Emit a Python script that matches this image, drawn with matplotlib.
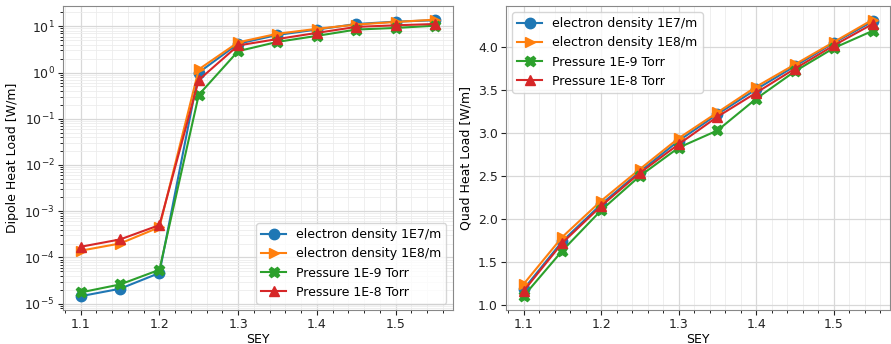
import matplotlib
matplotlib.use("Agg")
import matplotlib.pyplot as plt
from matplotlib.ticker import AutoMinorLocator, NullFormatter

sey = [1.10, 1.15, 1.20, 1.25, 1.30, 1.35, 1.40, 1.45, 1.50, 1.55]

labels = ["electron density 1E7/m", "electron density 1E8/m",
          "Pressure 1E-9 Torr", "Pressure 1E-8 Torr"]
markers = ["o", ">", "X", "^"]
colors = ["#1f77b4", "#ff7f0e", "#2ca02c", "#d62728"]

dipole_ed1e7 = [1.45e-5, 2.1e-5, 4.6e-5, 1.0, 4.2, 6.5, 8.5, 11.2, 12.6, 13.5]
dipole_ed1e8 = [1.4e-4, 2.0e-4, 4.5e-4, 1.17, 4.5, 6.9, 8.8, 10.9, 12.4, 13.9]
dipole_p1e9 = [1.75e-5, 2.6e-5, 5.4e-5, 0.33, 2.9, 4.6, 6.2, 8.5, 9.2, 10.3]
dipole_p1e8 = [1.7e-4, 2.45e-4, 5.0e-4, 0.69, 3.85, 5.3, 7.2, 9.7, 10.5, 11.2]

quad_ed1e7 = [1.18, 1.74, 2.17, 2.55, 2.91, 3.22, 3.51, 3.78, 4.05, 4.30]
quad_ed1e8 = [1.24, 1.79, 2.21, 2.58, 2.94, 3.24, 3.54, 3.80, 4.06, 4.32]
quad_p1e9 = [1.10, 1.63, 2.10, 2.50, 2.83, 3.03, 3.40, 3.72, 3.99, 4.19]
quad_p1e8 = [1.16, 1.72, 2.15, 2.535, 2.87, 3.19, 3.47, 3.75, 4.02, 4.27]

dipole_ticks = [1e-5, 1e-4, 1e-3, 1e-2, 1e-1, 1e0, 1e1]

dipole = [dipole_ed1e7, dipole_ed1e8, dipole_p1e9, dipole_p1e8]
quad = [quad_ed1e7, quad_ed1e8, quad_p1e9, quad_p1e8]

plt.rcParams["font.family"] = "DejaVu Sans"
fig = plt.figure(figsize=(8.91, 3.44), dpi=100)
ax1 = fig.add_axes([0.0707, 0.0988, 0.4373, 0.8842])
ax2 = fig.add_axes([0.568, 0.0988, 0.431, 0.8842])

for ax, data in ((ax1, dipole), (ax2, quad)):
    for y, lab, m, c in zip(data, labels, markers, colors):
        ax.plot(sey, y, marker=m, color=c, label=lab, markersize=7.5, linewidth=1.5)
    ax.set_xlabel("SEY", fontsize=9, labelpad=1)
    ax.xaxis.set_minor_locator(AutoMinorLocator(5))
    ax.tick_params(labelsize=9, colors="#222222", pad=2.5)
    ax.tick_params(which="minor", length=2)
    for s in ax.spines.values():
        s.set_color("#888888")
    ax.set_axisbelow(True)
    ax.grid(which="major", color="#d8d8d8", linewidth=0.9)
    ax.grid(which="minor", color="#ececec", linewidth=0.6)

ax1.set_yscale("log")
ax1.set_yticks(dipole_ticks)
ax1.yaxis.set_minor_formatter(NullFormatter())
ax1.set_ylabel("Dipole Heat Load [W/m]", fontsize=9, labelpad=4)
ax1.legend(loc="lower right", fontsize=9)

ax2.set_ylabel("Quad Heat Load [W/m]", fontsize=9, labelpad=4)
ax2.legend(loc="upper left", fontsize=9)

fig.savefig("out.png", dpi=100)
